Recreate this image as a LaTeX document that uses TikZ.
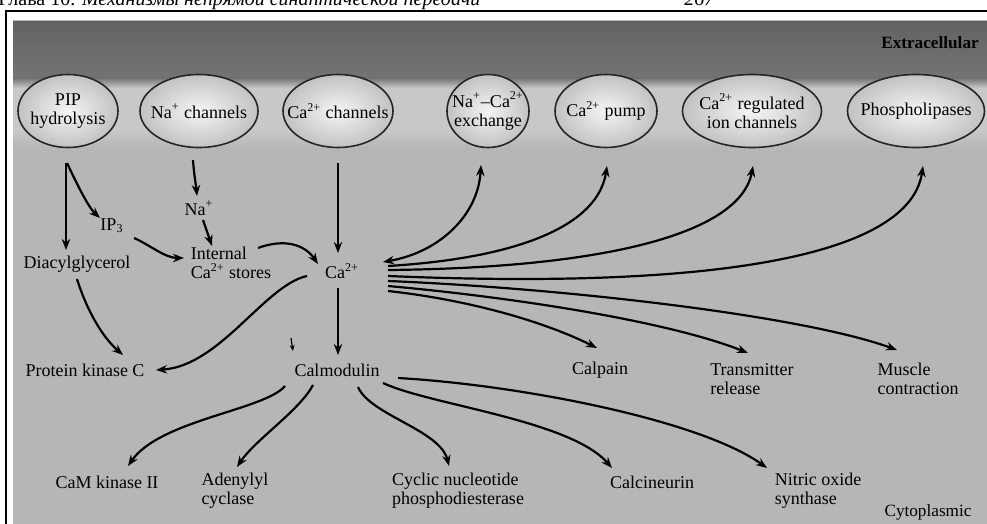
\documentclass[tikz,border=0pt]{standalone}
\usepackage{fontspec}
\setmainfont{Liberation Serif}
\usetikzlibrary{calc,arrows.meta,shapes.geometric}
\definecolor{cytogray}{HTML}{B6B6B6}
\definecolor{membgray}{HTML}{C8C8C8}
\definecolor{darkband}{HTML}{636363}
\definecolor{darkbandb}{HTML}{747474}
\begin{document}
\begin{tikzpicture}[x=0.5pt,y=-0.5pt,
  arr/.style={line width=1.1pt, -{Stealth[length=5.5pt,width=4.2pt]}},
  darr/.style={line width=1.1pt, {Stealth[length=5.5pt,width=4.2pt]}-{Stealth[length=5.5pt,width=4.2pt]}},
  memb/.style={ellipse, draw=black!85, line width=0.8pt, inner sep=0pt, minimum height=36.5pt, inner color=gray!8, outer color=gray!48},
  mlbl/.style={align=center, inner sep=0pt, font=\fontsize{9}{9.5}\selectfont},
  lbl/.style={inner sep=1pt, font=\fontsize{9}{9.5}\selectfont, align=left},
  hdrf/.style={inner sep=0pt, anchor=base west, font=\fontsize{10}{12}\selectfont},
]
\clip (0,0) rectangle (987,524);
\fill[white] (0,0) rectangle (987,524);
% backgrounds
\fill[cytogray] (13,20) rectangle (995,530);
\fill[membgray] (13,82) rectangle (995,140);
\shade[top color=membgray, bottom color=cytogray] (13,130) rectangle (995,148);
\shade[top color=darkband, bottom color=darkbandb] (13,22) rectangle (995,78);
\shade[top color=darkbandb, bottom color=membgray] (13,78) rectangle (995,88);
\draw[line width=1.3pt] (6,11) rectangle (1005,540);
% header
\node[hdrf] (hdr) at (-2,6) {Глава 10. \textit{Механизмы непрямой синаптической передачи}};
\node[hdrf] (pg) at (684,6) {\textit{267}};
% membrane proteins
\node[memb, minimum width=50pt, label={[mlbl]center:PIP\\hydrolysis}] (pip) at (68,111) {};
\node[memb, minimum width=59pt, label={[mlbl]center:Na\textsuperscript{+} channels}] (nach) at (199,111) {};
\node[memb, minimum width=55pt, label={[mlbl]center:Ca\textsuperscript{2+} channels}] (cach) at (338,111) {};
\node[memb, minimum width=41pt, label={[mlbl]center:Na\textsuperscript{+}--Ca\textsuperscript{2+}\\exchange}] (exch) at (488,111) {};
\node[memb, minimum width=51pt, label={[mlbl]center:Ca\textsuperscript{2+} pump}] (pump) at (606,111) {};
\node[memb, minimum width=69.5pt, label={[mlbl]center:Ca\textsuperscript{2+} regulated\\ion channels}] (reg) at (752,111) {};
\node[memb, minimum width=68.5pt, label={[mlbl]center:Phospholipases}] (phos) at (916,111) {};
% labels
\node[font=\fontsize{8.6}{10}\selectfont\bfseries, text=black] (extra) at (930,43) {Extracellular};
\node[font=\fontsize{8.6}{10}\selectfont] (cyto) at (928,512) {Cytoplasmic};
% cytoplasmic nodes
\node[lbl] (ip3) at (112,226) {IP\textsubscript{3}};
\node[lbl] (na) at (199,208) {Na\textsuperscript{+}};
\node[lbl] (dag) at (77,264) {Diacylglycerol};
\node[lbl] (stores) at (231,263) {Internal\\Ca\textsuperscript{2+} stores};
\node[lbl] (ca) at (342,271) {Ca\textsuperscript{2+}};
\node[lbl] (pkc) at (85,370) {Protein kinase C};
\node[lbl] (cam) at (337,370) {Calmodulin};
\node[lbl] (calpain) at (600,370) {Calpain};
\node[lbl] (trans) at (752,379) {Transmitter\\release};
\node[lbl] (muscle) at (918,379) {Muscle\\contraction};
\node[lbl] (camk) at (107,482) {CaM kinase II};
\node[lbl] (adenyl) at (235,491) {Adenylyl\\cyclase};
\node[lbl] (pde) at (458,491) {Cyclic nucleotide\\phosphodiesterase};
\node[lbl] (calcin) at (652,482) {Calcineurin};
\node[lbl] (nos) at (818,491) {Nitric oxide\\synthase};
% arrows
\draw[arr] ($(pip)+(-2,52)$) -- ($(dag)+(-11,-14)$);
\draw[arr] ($(pip)+(-1,52)$) .. controls (75,180) and (88,207) .. ($(ip3)+(-12,-8)$);
\draw[arr] ($(nach)+(-6,49)$) .. controls (194,175) and (196,185) .. ($(na)+(-2,-12)$);
\draw[arr] ($(na)+(4,12)$) -- ($(stores)+(-19,-17)$);
\draw[arr] ($(ip3)+(22,12)$) .. controls (150,245) and (165,258) .. ($(stores)+(-47,-5)$);
\draw[arr] ($(stores)+(27,-15)$) .. controls (285,238) and (305,245) .. ($(ca)+(-24,-7)$);
\draw[arr] ($(cach)+(0,52)$) -- ($(ca)+(-4,-18)$);
\draw[arr] ($(ca)+(-4,17)$) -- ($(cam)+(1,-15)$);
\draw[arr] ($(ca)+(-35,5)$) .. controls (265,285) and (220,366) .. ($(pkc)+(71,0)$);
\draw[arr] ($(dag)+(0,15)$) .. controls (85,305) and (100,335) .. ($(pkc)+(38,-15)$);
\draw[darr] ($(ca)+(41,-9)$) .. controls (440,252) and (478,215) .. ($(exch)+(-7,54)$);
\draw[arr] ($(ca)+(46,-5)$) .. controls (520,258) and (598,225) .. ($(pump)+(1,55)$);
\draw[arr] ($(ca)+(46,-1)$) .. controls (600,268) and (740,235) .. ($(reg)+(1,55)$);
\draw[arr] ($(ca)+(46,5)$) .. controls (720,290) and (910,255) .. ($(phos)+(7,55)$);
\draw[arr] ($(ca)+(46,10)$) .. controls (560,288) and (800,315) .. ($(muscle)+(-21,-29)$);
\draw[arr] ($(ca)+(46,15)$) .. controls (520,298) and (670,322) .. ($(trans)+(-4,-26)$);
\draw[arr] ($(ca)+(46,20)$) .. controls (470,300) and (545,322) .. ($(calpain)+(-3,-22)$);
\draw[arr] ($(cam)+(-52,16)$) .. controls (265,410) and (160,420) .. ($(camk)+(21,-16)$);
\draw[arr] ($(cam)+(-24,15)$) .. controls (300,410) and (255,440) .. ($(adenyl)+(2,-24)$);
\draw[arr] ($(cam)+(21,17)$) .. controls (370,415) and (440,430) .. ($(pde)+(-9,-25)$);
\draw[arr] ($(cam)+(46,13)$) .. controls (430,405) and (570,420) .. ($(calcin)+(-40,-14)$);
\draw[arr] ($(cam)+(61,8)$) .. controls (520,385) and (700,420) .. ($(nos)+(-51,-23)$);
% small stray mark
\coordinate (m1) at (291,338);
\coordinate (m2) at (293,351);
\draw[line width=0.6pt,-{Stealth[length=3pt,width=2.5pt]}] (m1) -- (m2);
\end{tikzpicture}
\end{document}
